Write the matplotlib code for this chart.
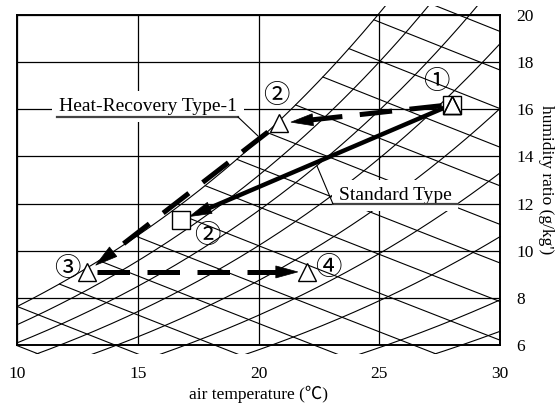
import numpy as np
import matplotlib
matplotlib.use("Agg")
import matplotlib.pyplot as plt
from matplotlib.patches import Rectangle, Polygon

plt.rcParams['font.family'] = ['Liberation Serif', 'Noto Sans CJK JP', 'DejaVu Sans']

# %% data
x_ticks = [10, 15, 20, 25, 30]
y_ticks = [6, 8, 10, 12, 14, 16, 18, 20]

# relative humidity curves and enthalpy lines (kcal/kg') of the chart background
rh_levels = [1.0, 0.9, 0.8, 0.7, 0.6, 0.5, 0.4, 0.3, 0.25]
h_levels_kcal = [6, 7, 8, 9, 10, 11, 12, 13, 14, 15, 16, 17, 18, 19, 20]

# Heat-Recovery Type-1 : 1 -> 2 -> 3 -> 4
hr_temp = [28.0, 20.85, 12.9, 22.0]
hr_hum = [16.2, 15.4, 9.1, 9.1]
hr_labels = ['①', '②', '③', '④']
# Standard Type : 1 -> 2
std_temp = [28.0, 16.8]
std_hum = [16.2, 11.3]
std_labels = ['', '②']


# %% psychrometrics
P = 101.325


def pws(t):
    return 0.61078 * np.exp(17.27 * t / (t + 237.3))


def w_rh(t, rh):
    pw = rh * pws(t)
    return 622.0 * pw / (P - pw)


def w_h(t, h_kj):
    return 1000.0 * (h_kj - 1.006 * t) / (2501.0 + 1.86 * t)


fig = plt.figure(figsize=(5.58, 4.12), dpi=100)
ax = fig.add_axes([17 / 558, 67 / 412, 483 / 558, 330 / 412])
ax.set_xlim(10, 30)
ax.set_ylim(6, 20)
ax.set_xticks(x_ticks)
ax.set_yticks(y_ticks)
ax.yaxis.tick_right()
ax.yaxis.set_label_position('right')
ax.tick_params(length=0, labelsize=12.5)
ax.tick_params(axis='x', pad=15)
ax.tick_params(axis='y', pad=12)
ax.set_axisbelow(True)
ax.grid(True, color='black', lw=0.9)
for s in ax.spines.values():
    s.set_linewidth(1.4)

ax.set_xlabel('air temperature (℃)', fontsize=12.5, labelpad=3)
ax.set_ylabel("humidity ratio (g/kg')", fontsize=12.5, rotation=270, labelpad=14)

# background lines run a little past the frame
clip_rect = Rectangle((9.6, 5.6), 20.8, 14.8, transform=ax.transData)
tt = np.linspace(5, 35, 3001)
for rh in rh_levels:
    ln, = ax.plot(tt, w_rh(tt, rh), color='black', lw=0.8, zorder=1.5)
    ln.set_clip_path(clip_rect)
wsat = w_rh(tt, 1.0)
for hk in h_levels_kcal:
    w = w_h(tt, hk * 4.186)
    w = np.where(w <= wsat, w, np.nan)
    ln, = ax.plot(tt, w, color='black', lw=0.8, zorder=1.5)
    ln.set_clip_path(clip_rect)

# labels with white boxes that hide the lines behind them
ax.text(15.42, 16.1, 'Heat-Recovery Type-1', fontsize=14, ha='center', va='center', zorder=3,
        bbox=dict(fc='white', ec='none', pad=5))
ax.text(25.65, 12.35, 'Standard Type', fontsize=14, ha='center', va='center', zorder=3,
        bbox=dict(fc='white', ec='none', pad=5))

inv = ax.transData.inverted()


def px(xy):
    return ax.transData.transform(xy)


def data(p):
    return inv.transform(p)


# underlines and leaders
u = data(np.array([[57, 412 - 117], [238, 412 - 117], [258, 412 - 136]]))
ax.plot(u[:2, 0], u[:2, 1], color='#444444', lw=1.6, zorder=4)
ax.plot(u[1:, 0], u[1:, 1], color='black', lw=0.8, zorder=4)
u = data(np.array([[458, 412 - 204], [333, 412 - 204], [317, 412 - 166]]))
ax.plot(u[:2, 0], u[:2, 1], color='#444444', lw=1.6, zorder=4)
ax.plot(u[1:, 0], u[1:, 1], color='black', lw=0.8, zorder=4)


def draw_arrow(a, b, shrink_a, shrink_b, lw, dashed, head_len=22, head_w=12):
    A = px(a)
    B = px(b)
    d = (B - A) / np.hypot(*(B - A))
    n = np.array([-d[1], d[0]])
    start = A + d * shrink_a
    tip = B - d * shrink_b
    base = tip - d * head_len
    seg = data(np.array([start, base + d * 3]))
    kw = dict(dashes=(6.5, 3.5)) if dashed else {}
    ax.plot(seg[:, 0], seg[:, 1], color='black', lw=lw, solid_capstyle='butt',
            dash_capstyle='butt', zorder=4, **kw)
    head = data(np.array([tip, base + n * head_w / 2, base - n * head_w / 2]))
    ax.add_patch(Polygon(head, closed=True, fc='black', ec='black', lw=0.5, zorder=4))


draw_arrow((std_temp[0], std_hum[0]), (std_temp[1], std_hum[1]), 6, 9, 3.2, False)
draw_arrow((hr_temp[0], hr_hum[0]), (hr_temp[1], hr_hum[1]), 10, 12, 3.6, True)
draw_arrow((hr_temp[1], hr_hum[1]), (hr_temp[2], hr_hum[2]), 14, 11, 3.6, True)
draw_arrow((hr_temp[2], hr_hum[2]), (hr_temp[3], hr_hum[3]), 10, 9, 3.6, True)

# state points
ax.plot(std_temp, std_hum, ls='none', marker='s', ms=13.5, mfc='white', mec='black',
        mew=1.0, zorder=5, clip_on=False)
ax.plot(hr_temp, hr_hum, ls='none', marker='^', ms=13.5, mfc='white', mec='black',
        mew=1.0, zorder=6, clip_on=False)
# the triangle inside the square at point 1 keeps a transparent fill
ax.plot(hr_temp[:1], hr_hum[:1], ls='none', marker='^', ms=13.5, mfc='none', mec='black',
        mew=1.0, zorder=6)

hr_off = [(-11, 16.5), (-2, 20), (-14.5, 2.5), (15.5, 3.5)]
for lab, x, y, off in zip(hr_labels, hr_temp, hr_hum, hr_off):
    ax.annotate(lab, (x, y), xytext=off, textcoords='offset points', ha='center',
                va='center', fontsize=19, family=['Noto Sans CJK JP'], zorder=7)
std_off = [(0, 0), (18.5, -11)]
for lab, x, y, off in zip(std_labels, std_temp, std_hum, std_off):
    if lab:
        ax.annotate(lab, (x, y), xytext=off, textcoords='offset points', ha='center',
                    va='center', fontsize=19, family=['Noto Sans CJK JP'], zorder=7)

fig.savefig('out.png', dpi=100)
